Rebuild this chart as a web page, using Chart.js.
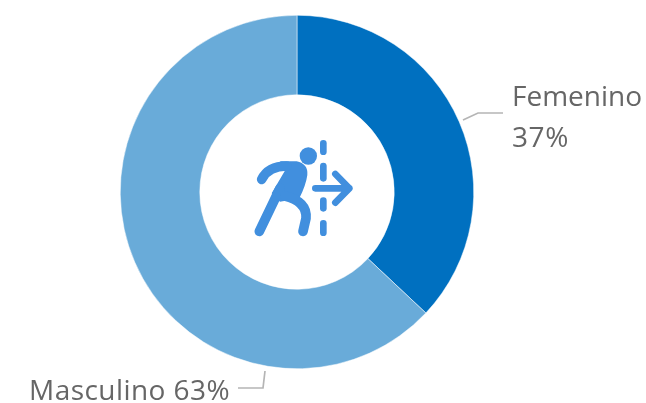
<!DOCTYPE html>
<html>
<head>
<meta charset="utf-8">
<style>
    html, body { margin: 0; padding: 0; background: #fff; }
    #wrap { width: 646px; height: 403px; position: relative; }
</style>
<script src="https://cdn.jsdelivr.net/npm/chart.js@4"></script>
</head>
<body>
<div id="wrap"><canvas id="donut"></canvas></div>
<script>
const categories = ['Femenino', 'Masculino'];
const shares = [37, 63];
const sliceColors = ['#0070C0', '#69ABD9'];

// Labels with their leader lines, they sit outside the ring
const labelsPlugin = {
    id: 'sideLabels',
    afterDraw(chart) {
        const ctx = chart.ctx;
        ctx.save();
        ctx.strokeStyle = '#B5B5B5';
        ctx.lineWidth = 1.7;
        ctx.beginPath();
        ctx.moveTo(463, 120);
        ctx.lineTo(478, 113);
        ctx.lineTo(503, 113);
        ctx.moveTo(265, 371);
        ctx.lineTo(263, 388);
        ctx.lineTo(238, 388);
        ctx.stroke();

        ctx.fillStyle = '#666666';
        ctx.font = '28px "Open Sans"';
        ctx.textBaseline = 'alphabetic';
        ctx.fillText(categories[0], 512, 106);
        ctx.letterSpacing = '0.6px';
        ctx.fillText(shares[0] + '%', 512, 147);
        ctx.letterSpacing = '0.45px';
        ctx.fillText(categories[1] + ' ' + shares[1] + '%', 29, 400);
        ctx.restore();
    }
};

// Person crossing a line, in the hole of the donut
const iconPlugin = {
    id: 'centerIcon',
    afterDraw(chart) {
        const ctx = chart.ctx;
        const blue = '#418FDE';
        ctx.save();
        ctx.translate(230, 120);
        ctx.scale(1 / 3, 1 / 3);
        ctx.fillStyle = blue;
        ctx.strokeStyle = blue;
        ctx.lineCap = 'round';
        ctx.lineJoin = 'round';

        // head
        ctx.beginPath();
        ctx.arc(235, 108, 26, 0, Math.PI * 2);
        ctx.fill();

        // torso
        ctx.beginPath();
        ctx.moveTo(150, 124);
        ctx.lineTo(200, 124);
        ctx.quadraticCurveTo(235, 132, 232, 165);
        ctx.quadraticCurveTo(228, 195, 208, 235);
        ctx.lineTo(150, 245);
        ctx.lineTo(125, 220);
        ctx.lineTo(166, 150);
        ctx.closePath();
        ctx.fill();

        // arm
        ctx.lineWidth = 29;
        ctx.beginPath();
        ctx.moveTo(95, 178);
        ctx.quadraticCurveTo(115, 138, 170, 138);
        ctx.stroke();

        // left leg
        ctx.beginPath();
        ctx.moveTo(88, 334);
        ctx.lineTo(150, 205);
        ctx.stroke();

        // right leg
        ctx.beginPath();
        ctx.moveTo(165, 228);
        ctx.quadraticCurveTo(232, 245, 228, 295);
        ctx.lineTo(219, 334);
        ctx.stroke();

        // dashed wall
        ctx.lineWidth = 20;
        [[70, 95], [138, 175], [242, 265], [310, 338]].forEach(seg => {
            ctx.beginPath();
            ctx.moveTo(280, seg[0]);
            ctx.lineTo(280, seg[1]);
            ctx.stroke();
        });

        // arrow
        ctx.beginPath();
        ctx.moveTo(256, 205);
        ctx.lineTo(358, 205);
        ctx.moveTo(316, 162);
        ctx.lineTo(358, 205);
        ctx.lineTo(316, 248);
        ctx.stroke();
        ctx.restore();
    }
};

new Chart(document.getElementById('donut').getContext('2d'), {
    type: 'doughnut',
    data: {
        labels: categories,
        datasets: [{
            data: shares,
            backgroundColor: sliceColors,
            borderColor: '#ffffff',
            borderWidth: 0.5
        }]
    },
    options: {
        responsive: true,
        maintainAspectRatio: false,
        animation: false,
        cutout: '55%',
        layout: { padding: { left: 120, right: 172, top: 15, bottom: 34 } },
        plugins: {
            legend: { display: false },
            tooltip: { enabled: false }
        }
    },
    plugins: [labelsPlugin, iconPlugin]
});
</script>
</body>
</html>
